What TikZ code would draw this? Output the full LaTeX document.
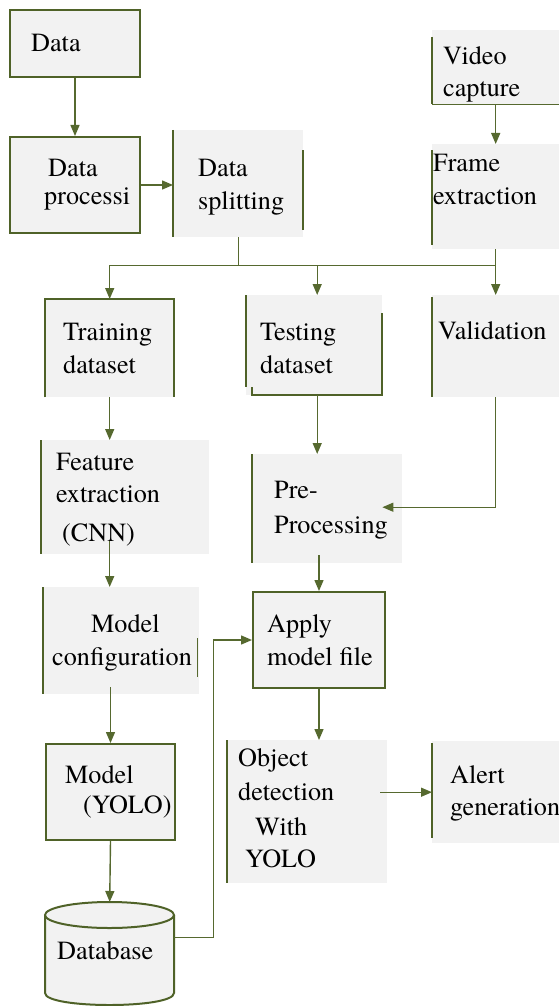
\documentclass[tikz,border=0pt]{standalone}
\usepackage{fontspec}
\setmainfont{texgyretermes}[Extension=.otf, UprightFont=*-regular, BoldFont=*-bold, ItalicFont=*-italic, BoldItalicFont=*-bolditalic]
\usetikzlibrary{arrows.meta,calc}
\definecolor{edgegreen}{HTML}{4F6228}
\definecolor{linkgreen}{HTML}{56692F}
\definecolor{boxgray}{HTML}{F2F2F2}
\tikzset{
  box/.style={rectangle, fill=boxgray, inner sep=0pt, anchor=north west},
  framed/.style={box, draw=edgegreen, line width=2pt},
  edge/.style={draw=edgegreen, line width=2pt},
  link/.style={draw=linkgreen, line width=1.4pt},
  arrowlink/.style={link, -{Triangle[length=11pt,width=9pt]}},
  txt/.style={inner sep=0pt, anchor=base west, font=\rmfamily\fontsize{26.2}{30}\selectfont},
}
\begin{document}
\begin{tikzpicture}[x=1pt,y=-1pt]
\useasboundingbox (0,0) rectangle (559,1006);

% ---- boxes ----
\node[framed, minimum width=130pt, minimum height=67pt] (data) at (9,9) {};
\node[framed, minimum width=130pt, minimum height=96pt] (proc) at (9,136) {};
\node[box, minimum width=130pt, minimum height=107pt] (split) at (173,130) {};
\node[box, minimum width=127pt, minimum height=74pt] (video) at (432,30) {};
\node[box, minimum width=127pt, minimum height=105pt] (frame) at (432,144) {};
\node[box, minimum width=129pt, minimum height=98pt] (train) at (45,299) {};
\node[box, minimum width=136pt, minimum height=100pt] (test) at (246,295) {};
\node[box, minimum width=127pt, minimum height=102pt] (valid) at (432,295) {};
\node[box, minimum width=168pt, minimum height=114pt] (feat) at (41,440) {};
\node[box, minimum width=150pt, minimum height=109pt] (pre) at (252,454) {};
\node[box, minimum width=156pt, minimum height=107pt] (conf) at (43,587) {};
\node[framed, minimum width=132pt, minimum height=96pt] (apply) at (252,591) {};
\node[framed, minimum width=129pt, minimum height=96pt] (yolo) at (45,743) {};
\node[box, minimum width=160pt, minimum height=143pt] (obj) at (227,740) {};
\node[box, minimum width=127pt, minimum height=102pt] (alert) at (432,741) {};
\node[inner sep=0pt, anchor=north west, minimum width=129pt, minimum height=103pt] (db) at (45,902) {};

% ---- partial box outlines ----
\draw[edge] (split.north west) -- (split.south west);
\draw[edge] ($(split.north east)+(0,20)$) -- ($(split.south east)+(0,-7)$);
\draw[edge] ($(video.north west)+(0,7)$) -- (video.south west);
\draw[link] (video.south west) -- (video.south east);
\draw[edge] ($(frame.north west)+(0,6)$) -- ($(frame.south west)+(0,-4)$);
\draw[edge] (train.south west) -- (train.north west) -- (train.north east) -- (train.south east);
\draw[edge] (test.north west) -- ($(test.south west)+(0,-8)$);
\draw[edge] ($(test.south west)+(6,-8)$) -- ($(test.south west)+(6,0)$) -- (test.south east) -- ($(test.north east)+(0,18)$);
\draw[edge] ($(valid.north west)+(0,2)$) -- (valid.south west);
\draw[edge] (feat.north west) -- (feat.south west);
\draw[edge] (pre.north west) -- (pre.south west);
\draw[edge] (conf.north west) -- (conf.south west);
\draw[link] ($(conf.north east)+(-2,51)$) -- ($(conf.north east)+(-2,90)$);
\draw[edge] (obj.north west) -- (obj.south west);
\draw[edge] ($(alert.north west)+(0,2)$) -- ($(alert.south west)+(0,-5)$);

% ---- database cylinder ----
\path[fill=boxgray] (45,915) -- (45,993) .. controls (45,1009) and (174,1009) .. (174,993) -- (174,915) -- cycle;
\draw[edge] (45,915) -- (45,993) .. controls (45,1009) and (174,1009) .. (174,993) -- (174,915);
\draw[edge, fill=boxgray] (109.5,915) ellipse [x radius=64.5pt, y radius=13pt];

% ---- labels ----
\node[txt] (data-a) at (31,51.5) {Data};
\node[txt] (proc-a) at (48,176) {Data};
\node[txt] (proc-b) at (44,204) {processi};
\node[txt] (split-a) at (198,176.5) {Data};
\node[txt] (split-b) at (198,209) {splitting};
\node[txt] (video-a) at (443,65) {Video};
\node[txt] (video-b) at (443,97) {capture};
\node[txt] (frame-a) at (433,171.5) {Frame};
\node[txt] (frame-b) at (433,204) {extraction};
\node[txt] (train-a) at (63,340) {Training};
\node[txt] (train-b) at (63,373) {dataset};
\node[txt] (test-a) at (260,340) {Testing};
\node[txt] (test-b) at (260,373) {dataset};
\node[txt] (valid-a) at (438,339) {Validation};
\node[txt] (feat-a) at (56,470) {Feature};
\node[txt] (feat-b) at (56,502.5) {extraction};
\node[txt] (feat-c) at (62,541) {(CNN)};
\node[txt] (pre-a) at (274,498) {Pre-};
\node[txt] (pre-b) at (274,533) {Processing};
\node[txt] (conf-a) at (91,632) {Model};
\node[txt] (conf-b) at (52,665) {configuration};
\node[txt] (apply-a) at (267,632) {Apply};
\node[txt] (apply-b) at (267,665) {model file};
\node[txt] (yolo-a) at (65,783) {Model};
\node[txt] (yolo-b) at (83,813) {(YOLO)};
\node[txt] (db-a) at (57,959) {Database};
\node[txt] (obj-a) at (238,766.5) {Object};
\node[txt] (obj-b) at (238,800) {detection};
\node[txt] (obj-c) at (255,835) {With};
\node[txt] (obj-d) at (245,867) {YOLO};
\node[txt] (alert-a) at (450,783) {Alert};
\node[txt] (alert-b) at (450,815) {generation};

% ---- connectors ----
\draw[arrowlink] (data.south) -- (proc.north);
\draw[arrowlink] (proc.east) -- (split.west |- proc.east);
\draw[arrowlink] (video.south) -- (frame.north);
\draw[link] (split.south) -- ++(0,28) coordinate (bus);
\draw[link] (frame.south) -- (frame.south |- bus);
\draw[arrowlink] (bus) -| (train.north);
\draw[arrowlink] (bus) -| ([xshift=3pt]test.north);
\draw[arrowlink] (bus) -| (valid.north);
\draw[arrowlink] (train.south) -- (train.south |- feat.north);
\draw[arrowlink] ($(feat.south -| train.south)+(0,-13)$) -- (train.south |- conf.north);
\draw[arrowlink] ($(yolo.north |- conf.south)+(0,-7)$) -- (yolo.north);
\draw[arrowlink] (yolo.south) -- (db.north);
\draw[arrowlink] ([yshift=16.5pt]db.east) -- ++(39,0) |- (apply.west);
\draw[arrowlink] ([xshift=3pt]test.south) -- ([xshift=3pt]test.south |- pre.north);
\coordinate (pre-in) at ($(pre.east)+(-20,-1.5)$);
\draw[arrowlink] (valid.south) |- (pre-in);
\draw[arrowlink] ($(apply.north |- pre.south)+(0,-8)$) -- (apply.north);
\draw[arrowlink] (apply.south) -- (apply.south |- obj.north);
\draw[arrowlink] ($(alert.west -| obj.east)+(-7,0)$) -- (alert.west);
\end{tikzpicture}
\end{document}
